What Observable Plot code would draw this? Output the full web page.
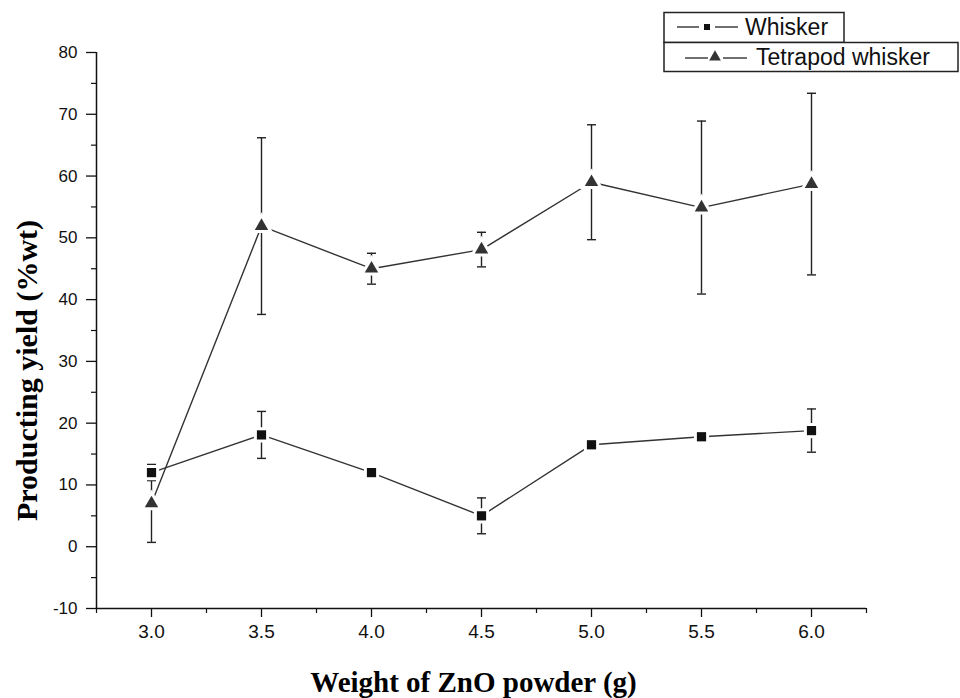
<!DOCTYPE html>
<html>
<head>
<meta charset="utf-8">
<script src="https://cdn.jsdelivr.net/npm/d3@7"></script>
<script src="https://cdn.jsdelivr.net/npm/@observablehq/plot@0.6"></script>
<style>
  html, body { margin: 0; padding: 0; background: #fff; }
  #wrap { position: relative; width: 960px; height: 698px; }
  #legend { position: absolute; left: 0; top: 0; }
</style>
</head>
<body>
<div id="wrap"></div>
<script>
// ---- data ----
const weights = [3.0, 3.5, 4.0, 4.5, 5.0, 5.5, 6.0];
const whisker = [12.0, 18.1, 12.0, 5.0, 16.5, 17.8, 18.8];
const whiskerErr = [1.3, 3.8, 1.0, 2.9, 0.6, 0.8, 3.5];
const tetrapod = [7.0, 51.9, 45.0, 48.1, 59.0, 54.9, 58.7];
const tetrapodErr = [6.3, 14.3, 2.5, 2.8, 9.3, 14.0, 14.7];
const yMajorTicks = [-10, 0, 10, 20, 30, 40, 50, 60, 70, 80];
const yMinorTicks = [-5, 5, 15, 25, 35, 45, 55, 65, 75];
const xMajorTicks = [3.0, 3.5, 4.0, 4.5, 5.0, 5.5, 6.0];
const xMinorTicks = [2.75, 3.25, 3.75, 4.25, 4.75, 5.25, 5.75, 6.25];
const seriesNames = ["Whisker", "Tetrapod whisker"];
const xLabel = "Weight of ZnO powder (g)";
const yLabel = "Producting yield (%wt)";

const wData = weights.map((x, i) => ({x, y: whisker[i], lo: whisker[i] - whiskerErr[i], hi: whisker[i] + whiskerErr[i]}));
const tData = weights.map((x, i) => ({x, y: tetrapod[i], lo: tetrapod[i] - tetrapodErr[i], hi: tetrapod[i] + tetrapodErr[i]}));
const all = [...wData, ...tData];

const cap = { draw(ctx, size) { const h = 4.5; ctx.moveTo(-h, 0); ctx.lineTo(h, 0); } };

const tickFont = "'Liberation Sans', Arial, sans-serif";
const serif = "'Liberation Serif', 'Times New Roman', serif";
const yFmt = d => (d < 0 ? "-" + Math.abs(d) : String(d));
const xFmt = d3.format(".1f");

const chart = Plot.plot({
  width: 960,
  height: 698,
  marginLeft: 96,
  marginRight: 94,
  marginTop: 52,
  marginBottom: 90,
  style: { background: "white", color: "#111" },
  x: { domain: [2.75, 6.25] },
  y: { domain: [-10, 80] },
  marks: [
    // axis lines
    Plot.ruleX([2.75], { stroke: "#111", strokeWidth: 1.5 }),
    Plot.ruleY([-10], { stroke: "#111", strokeWidth: 1.5 }),
    Plot.axisY({ ticks: yMajorTicks, tickSize: 10, label: null, tickFormat: () => "", stroke: "#111", strokeWidth: 1.3 }),
    Plot.axisY({ ticks: yMinorTicks, tickSize: 5, label: null, tickFormat: () => "", stroke: "#111", strokeWidth: 1.2 }),
    Plot.axisX({ ticks: xMajorTicks, tickSize: 9, label: null, tickFormat: () => "", stroke: "#111", strokeWidth: 1.3 }),
    Plot.axisX({ ticks: xMinorTicks, tickSize: 5, label: null, tickFormat: () => "", stroke: "#111", strokeWidth: 1.2 }),
    // tick labels
    Plot.text(yMajorTicks, { y: d => d, text: yFmt, frameAnchor: "left", textAnchor: "end", lineAnchor: "middle",
      dx: -19, fontSize: 17, fontFamily: tickFont, fill: "#111" }),
    Plot.text(xMajorTicks, { x: d => d, text: xFmt, frameAnchor: "bottom", textAnchor: "middle", lineAnchor: "top",
      dy: 16, fontSize: 19, fontFamily: tickFont, fill: "#111" }),
    // series lines
    Plot.line(wData, { x: "x", y: "y", stroke: "#333", strokeWidth: 1.4 }),
    Plot.line(tData, { x: "x", y: "y", stroke: "#333", strokeWidth: 1.4 }),
    // error bars
    Plot.ruleX(all, { x: "x", y1: "lo", y2: "hi", stroke: "#222", strokeWidth: 1.4 }),
    Plot.dot(all, { x: "x", y: "lo", symbol: cap, r: 4, stroke: "#222", strokeWidth: 1.4, fill: "none" }),
    Plot.dot(all, { x: "x", y: "hi", symbol: cap, r: 4, stroke: "#222", strokeWidth: 1.4, fill: "none" }),
    // white halos (gaps around markers)
    Plot.dot(wData, { x: "x", y: "y", symbol: "square", r: 5.2, fill: "white", stroke: "white", strokeWidth: 6 }),
    Plot.dot(tData, { x: "x", y: "y", symbol: "triangle", r: 5, fill: "white", stroke: "white", strokeWidth: 6 }),
    // markers
    Plot.dot(wData, { x: "x", y: "y", symbol: "square", r: 5.2, fill: "#111", stroke: "none" }),
    Plot.dot(tData, { x: "x", y: "y", symbol: "triangle", r: 5, fill: "#333", stroke: "none" }),
    // axis titles
    Plot.text([xLabel], { text: d => d, frameAnchor: "bottom", textAnchor: "middle", dx: -8, dy: 74, lineAnchor: "middle",
      fontSize: 29, fontWeight: "bold", fontFamily: serif, fill: "#000" }),
    Plot.text([yLabel], { text: d => d, frameAnchor: "left", textAnchor: "middle", rotate: -90, dx: -69, dy: 40, lineAnchor: "middle",
      fontSize: 30, fontWeight: "bold", fontFamily: serif, fill: "#000" })
  ]
});

const wrap = document.getElementById("wrap");
wrap.appendChild(chart);

// legend overlay
const leg = d3.select(wrap).append("svg").attr("id", "legend").attr("width", 960).attr("height", 80);
leg.append("rect").attr("x", 664).attr("y", 12.5).attr("width", 180).attr("height", 30)
  .attr("fill", "white").attr("stroke", "#222").attr("stroke-width", 1.5);
leg.append("rect").attr("x", 664).attr("y", 42.5).attr("width", 294).attr("height", 29)
  .attr("fill", "white").attr("stroke", "#222").attr("stroke-width", 1.5);
// row 1
leg.append("line").attr("x1", 677).attr("x2", 699).attr("y1", 27).attr("y2", 27).attr("stroke", "#333").attr("stroke-width", 1.4);
leg.append("line").attr("x1", 715).attr("x2", 738).attr("y1", 27).attr("y2", 27).attr("stroke", "#333").attr("stroke-width", 1.4);
leg.append("path").attr("d", d3.symbol(d3.symbolSquare, 36)()).attr("transform", "translate(707,27)").attr("fill", "#111");
leg.append("text").attr("x", 745).attr("y", 27).attr("dy", "0.35em").attr("font-family", tickFont)
  .attr("font-size", 23).attr("fill", "#111").text(seriesNames[0]);
// row 2
leg.append("line").attr("x1", 685).attr("x2", 708).attr("y1", 58).attr("y2", 58).attr("stroke", "#333").attr("stroke-width", 1.4);
leg.append("line").attr("x1", 723).attr("x2", 747).attr("y1", 58).attr("y2", 58).attr("stroke", "#333").attr("stroke-width", 1.4);
leg.append("path").attr("d", d3.symbol(d3.symbolTriangle, 60)()).attr("transform", "translate(715,57)").attr("fill", "#333");
leg.append("text").attr("x", 756).attr("y", 57).attr("dy", "0.35em").attr("font-family", tickFont)
  .attr("font-size", 23).attr("fill", "#111").text(seriesNames[1]);
</script>
</body>
</html>
